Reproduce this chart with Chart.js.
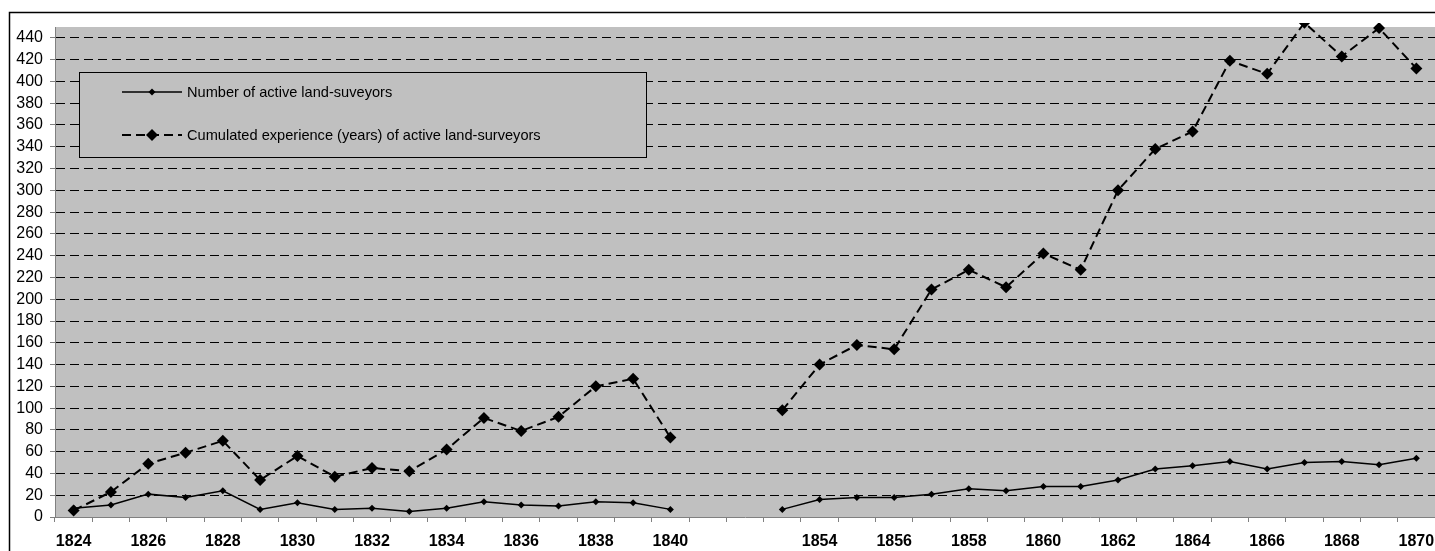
<!DOCTYPE html>
<html>
<head>
<meta charset="utf-8">
<script src="https://cdn.jsdelivr.net/npm/chart.js@4.4.0/dist/chart.umd.min.js"></script>
<style>
  html, body { margin: 0; padding: 0; background: #fff; }
  #wrap { width: 1435px; height: 551px; position: relative; }
</style>
</head>
<body>
<div id="wrap"><canvas id="myChart"></canvas></div>
<script>
// years 1841-1852 are not in the data: two empty slots mark the break
let years = ['1824', '1825', '1826', '1827', '1828', '1829', '1830', '1831', '1832',
    '1833', '1834', '1835', '1836', '1837', '1838', '1839', '1840', '', '',
    '1853', '1854', '1855', '1856', '1857', '1858', '1859', '1860', '1861', '1862',
    '1863', '1864', '1865', '1866', '1867', '1868', '1869', '1870']

let surveyors = [8, 11, 21, 18, 24, 7, 13, 7, 8, 5, 8, 14, 11, 10, 14, 13, 7, null, null,
    7, 16, 18, 18, 21, 26, 24, 28, 28, 34, 44, 47, 51, 44, 50, 51, 48, 54]

let experience = [6, 23, 49, 59, 70, 34, 56, 37, 45, 42, 62, 91, 79, 92, 120, 127, 73, null, null,
    98, 140, 158, 154, 209, 227, 211, 242, 227, 300, 338, 354, 419, 407, 454, 423, 449, 412]

let seriesNames = ['Number of active land-suveyors', 'Cumulated experience (years) of active land-surveyors']

let yMax = 450
let yStep = 20

const FONT = "'Liberation Sans', Arial, sans-serif"
const GREY = '#c0c0c0'

function diamond(c, x, y, r) {
    c.beginPath()
    c.moveTo(x, y - r)
    c.lineTo(x + r, y)
    c.lineTo(x, y + r)
    c.lineTo(x - r, y)
    c.closePath()
    c.fill()
}

const frame = {
    id: 'frame',
    beforeDraw(chart) {
        let c = chart.ctx
        let a = chart.chartArea
        c.save()
        c.fillStyle = '#fff'
        c.fillRect(0, 0, chart.width, chart.height)
        c.strokeStyle = '#000'
        c.lineWidth = 1.5
        c.strokeRect(9.5, 12.5, chart.width + 20, chart.height + 20)
        c.fillStyle = GREY
        c.fillRect(a.left, a.top, a.right - a.left, a.bottom - a.top)
        c.restore()
    },
    afterDraw(chart) {
        // legend box drawn inside the plot, as in the original
        let c = chart.ctx
        c.save()
        c.fillStyle = GREY
        c.fillRect(79.5, 72.5, 567, 85)
        c.strokeStyle = '#000'
        c.lineWidth = 1
        c.strokeRect(79.5, 72.5, 567, 85)

        let rows = [92, 135]
        chart.data.datasets.forEach((ds, i) => {
            let y = rows[i]
            c.strokeStyle = '#000'
            c.lineWidth = ds.borderWidth
            c.setLineDash(ds.borderDash || [])
            c.beginPath()
            c.moveTo(122, y)
            c.lineTo(182, y)
            c.stroke()
            c.setLineDash([])
            c.fillStyle = '#000'
            diamond(c, 152, y, ds.pointRadius)
            c.font = '14.6px ' + FONT
            c.textBaseline = 'middle'
            c.fillText(ds.label, 187, y + 1)
        })
        c.restore()
    }
}

let ctx = document.querySelector('#myChart')

let graphData = {
    type: 'line',
    data: {
        labels: years,
        datasets: [{
            label: seriesNames[0],
            data: surveyors,
            borderColor: '#000',
            borderWidth: 1.5,
            pointStyle: 'rectRot',
            pointRadius: 3.5,
            pointBackgroundColor: '#000',
            pointBorderWidth: 0,
            tension: 0,
            clip: { left: 5, top: 4, right: 5, bottom: 5 }
        }, {
            label: seriesNames[1],
            data: experience,
            borderColor: '#000',
            borderWidth: 2,
            borderDash: [9, 5],
            pointStyle: 'rectRot',
            pointRadius: 6,
            pointBackgroundColor: '#000',
            pointBorderWidth: 0,
            tension: 0,
            clip: { left: 5, top: 4, right: 5, bottom: 5 }
        }]
    },
    options: {
        responsive: true,
        maintainAspectRatio: false,
        animation: false,
        layout: { autoPadding: false, padding: { top: 27, left: 0, right: 0, bottom: 0 } },
        plugins: {
            legend: { display: false },
            tooltip: { enabled: false }
        },
        scales: {
            x: {
                offset: true,
                afterFit(scale) {
                    scale.height = 34
                    scale.paddingLeft = 0
                    scale.paddingRight = 0
                },
                grid: {
                    display: true,
                    offset: true,
                    drawOnChartArea: false,
                    drawTicks: true,
                    tickLength: 5,
                    tickColor: '#808080'
                },
                border: { display: true, color: '#808080', width: 1 },
                ticks: {
                    autoSkip: false,
                    maxRotation: 0,
                    padding: 10,
                    color: '#000',
                    font: { family: FONT, size: 16, weight: 'bold' },
                    callback: function(v, i) { return i % 2 === 0 ? this.getLabelForValue(v) : '' }
                }
            },
            y: {
                min: 0,
                max: yMax,
                afterFit(scale) { scale.width = 55 },
                grid: {
                    color: c => c.tick && c.tick.value === 0 ? 'rgba(0,0,0,0)' : '#000',
                    lineWidth: 1,
                    tickLength: 5,
                    tickColor: '#808080',
                    tickBorderDash: []
                },
                border: { display: true, color: '#808080', width: 1, dash: [9, 5] },
                ticks: {
                    stepSize: yStep,
                    includeBounds: false,
                    padding: 7,
                    color: '#000',
                    font: { family: FONT, size: 16 }
                }
            }
        }
    },
    plugins: [frame]
}

let myChart = new Chart(ctx, graphData)
</script>
</body>
</html>
